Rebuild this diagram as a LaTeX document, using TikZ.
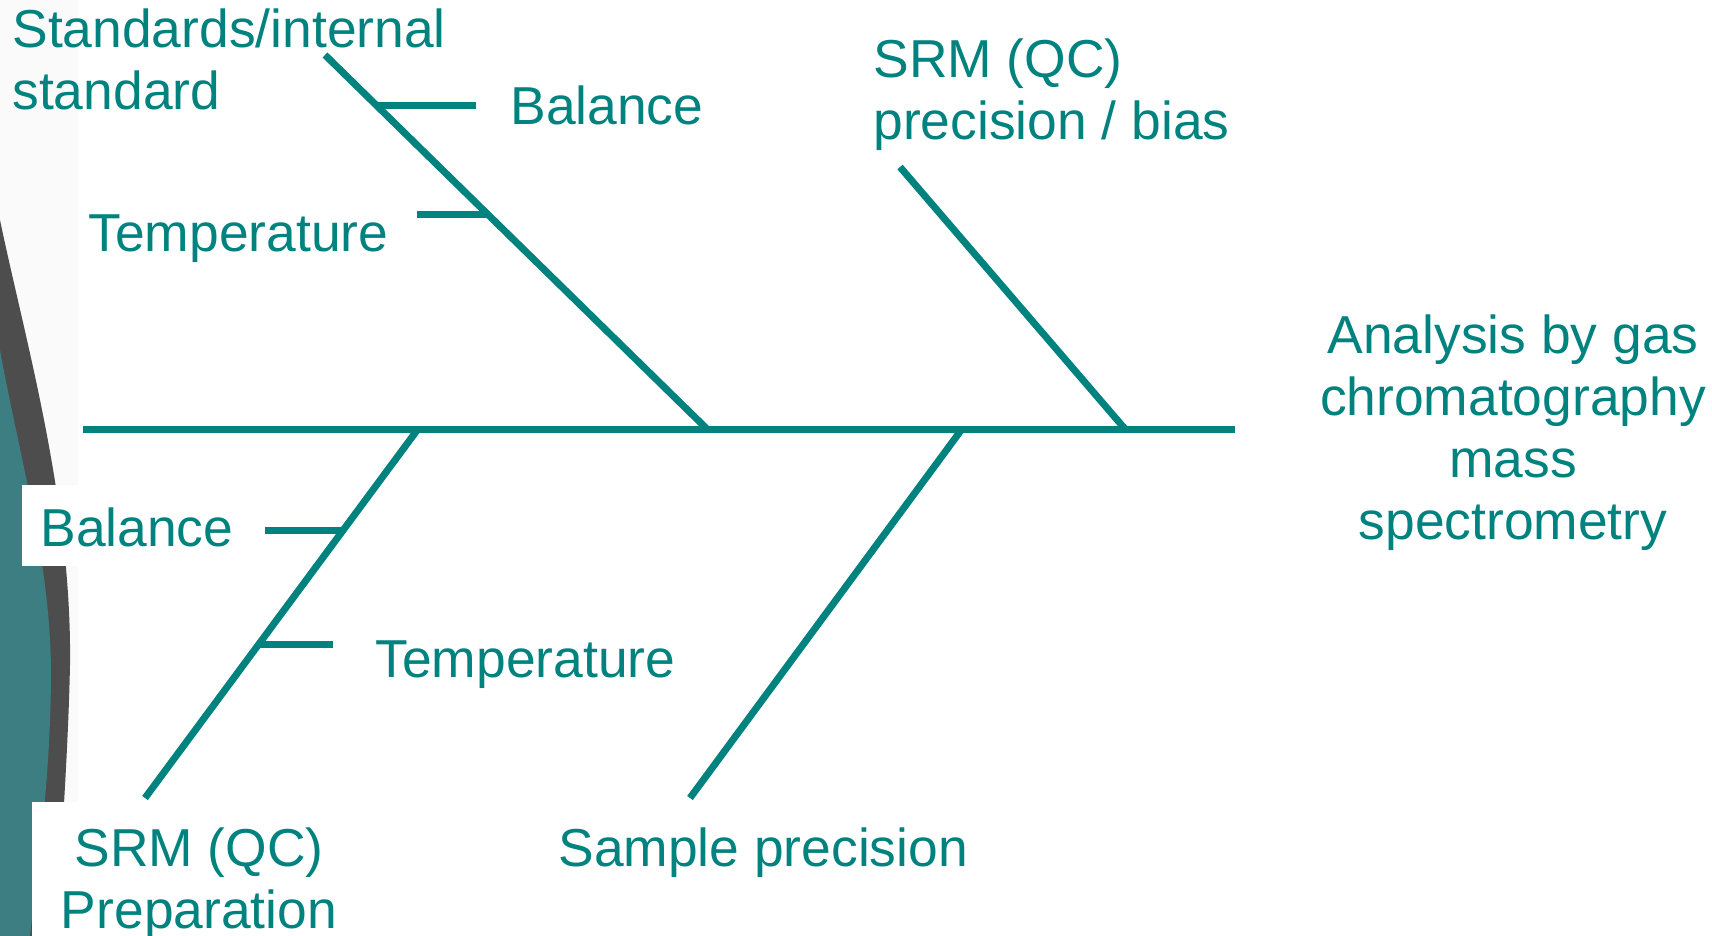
\documentclass[tikz,border=0pt]{standalone}
\usepackage{fontspec}
\setmainfont{Liberation Sans}
\usepackage{tikz}
\usetikzlibrary{calc}
\usepackage{xcolor}
\definecolor{fishteal}{HTML}{00827F}
\definecolor{swooshteal}{HTML}{3C7E82}
\definecolor{swooshgray}{HTML}{4D4D4D}
\tikzset{
  bone/.style={draw=fishteal, line width=3.5pt},
  lbl/.style={text=fishteal, inner sep=0pt, font=\fontsize{26.7}{31}\selectfont},
}

\begin{document}
\begin{tikzpicture}[x=0.5pt,y=-0.5pt]
    \useasboundingbox (0,0) rectangle (1712,936);
    %Slide swoosh at the left edge
    \fill[black!2] (0,0) rectangle (78,936);
    \fill[swooshgray] (0,220) .. controls (25,340) and (72,500) .. (70,665)
      .. controls (68,760) and (60,860) .. (56,936) -- (0,936) -- cycle;
    \fill[swooshteal] (0,350) .. controls (20,460) and (50,560) .. (51,670)
      .. controls (51,780) and (36,880) .. (30,936) -- (0,936) -- cycle;
    %White boxes behind labels
    \fill[white] (22,485) rectangle (240,566);
    \fill[white] (32,802) rectangle (340,936);
    %Spine and head
    \coordinate (spineL) at (83,429);
    \coordinate (spineR) at (1235,429);
    %Branch ends
    \coordinate (stdTop) at (325,55);
    \coordinate (stdFoot) at (707,429);
    \coordinate (qcTop) at (900,167);
    \coordinate (qcFoot) at (1125,429);
    \coordinate (prepBot) at (145,798);
    \coordinate (prepFoot) at (418,429);
    \coordinate (smpBot) at (690,798);
    \coordinate (smpFoot) at (962,429);
    %Tick junctions
    \coordinate (balUj) at ($(stdTop)!0.136!(stdFoot)$);
    \coordinate (tempUj) at ($(stdTop)!0.428!(stdFoot)$);
    \coordinate (balLj) at ($(prepFoot)!0.274!(prepBot)$);
    \coordinate (tempLj) at ($(prepFoot)!0.583!(prepBot)$);
    \coordinate (balUe) at (476,106);
    \coordinate (tempUe) at (417,215);
    \coordinate (balLe) at (265,530);
    \coordinate (tempLe) at (333,644);
    %Bones
    \draw[bone] (spineL) -- (spineR);
    \draw[bone] (stdTop) -- (stdFoot);
    \draw[bone] (qcTop) -- (qcFoot);
    \draw[bone] (prepBot) -- (prepFoot);
    \draw[bone] (smpBot) -- (smpFoot);
    %Ticks
    \draw[bone] (balUe) -- (balUj |- balUe);
    \draw[bone] (tempUe) -- (tempUj |- tempUe);
    \draw[bone] (balLe) -- (balLj |- balLe);
    \draw[bone] (tempLe) -- (tempLj |- tempLe);
    %Labels (base of a multi-line node is its last line)
    \node[lbl, anchor=base west, align=left] (std) at (12,110) {Standards/internal\\standard};
    \node[lbl, anchor=base west] (balU) at (510,125) {Balance};
    \node[lbl, anchor=base west] (tempU) at (88,251) {Temperature};
    \node[lbl, anchor=base west, align=left] (qc) at (873,140) {SRM (QC)\\precision / bias};
    \node[lbl, anchor=base, align=center] (gcms) at (1513,539) {Analysis by gas\\chromatography\\mass\\spectrometry};
    \node[lbl, anchor=base west] (balL) at (40,546) {Balance};
    \node[lbl, anchor=base west] (tempL) at (375,677) {Temperature};
    \node[lbl, anchor=base, align=center] (prep) at (199,928) {SRM (QC)\\Preparation};
    \node[lbl, anchor=base west] (smp) at (558,866) {Sample precision};
\end{tikzpicture}
\end{document}
